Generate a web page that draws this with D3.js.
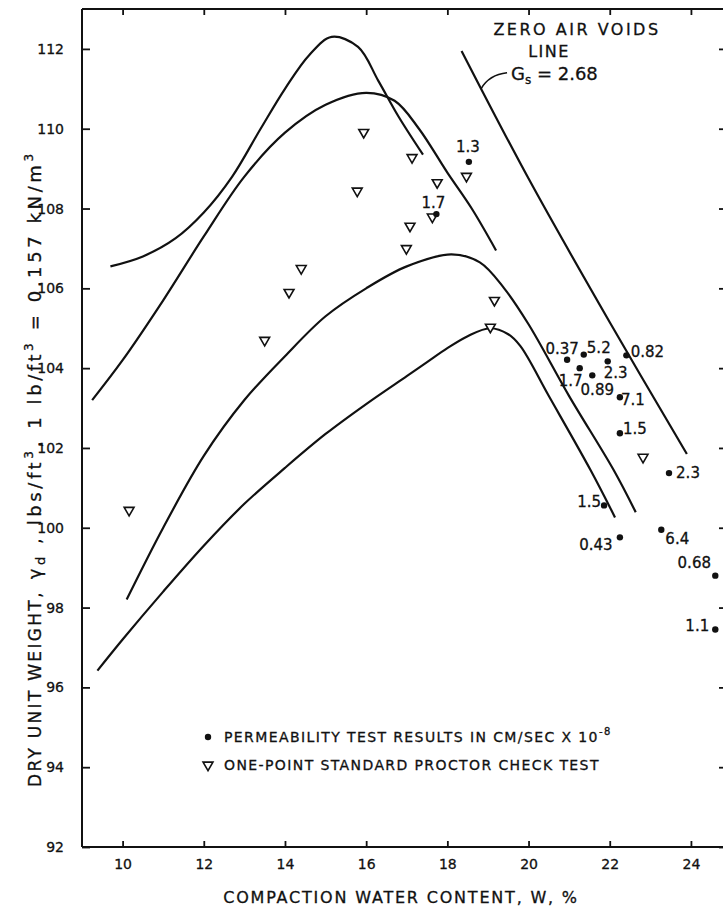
<!DOCTYPE html>
<html><head><meta charset="utf-8">
<script src="https://cdn.jsdelivr.net/npm/d3@7"></script>
<style>body{margin:0;background:#fff}svg{display:block}text{font-family:"DejaVu Sans",sans-serif;fill:#111;stroke:#111;stroke-width:0.3}</style>
</head><body><svg id="c" width="723" height="910"></svg>
<script>
// ---- data ----
const xTicks = [10, 12, 14, 16, 18, 20, 22, 24];
const yTicks = [92, 94, 96, 98, 100, 102, 104, 106, 108, 110, 112];

const curveA_w = [9.7, 10.5, 11.3, 12, 12.7, 13.4, 14, 14.6, 15.15, 15.8, 16.3, 16.8, 17.4];
const curveA_v = [106.55, 106.8, 107.25, 107.9, 108.8, 110.0, 111.0, 111.85, 112.3, 112.05, 111.2, 110.3, 109.35];
const curveB_w = [9.25, 10, 11, 12, 13, 14, 15, 16, 16.7, 17.3, 18, 18.6, 19.2];
const curveB_v = [103.2, 104.2, 105.7, 107.3, 108.8, 109.9, 110.6, 110.9, 110.7, 110.0, 108.9, 108.0, 106.95];
const curveC_w = [10.1, 11, 12, 13, 14, 15, 16, 17, 18.1, 18.8, 19.4, 20.0, 21.0, 22.1, 22.64];
const curveC_v = [98.2, 100.0, 101.8, 103.2, 104.3, 105.3, 106.0, 106.55, 106.85, 106.65, 106.0, 105.1, 103.3, 101.44, 100.39];
const curveD_w = [9.38, 10, 11, 12, 13, 14, 15, 16, 17, 17.5, 18, 18.5, 19.05, 19.5, 19.8, 20.5, 21.53, 22.13];
const curveD_v = [96.42, 97.2, 98.4, 99.55, 100.6, 101.5, 102.35, 103.1, 103.8, 104.15, 104.5, 104.8, 105.0, 104.85, 104.55, 103.3, 101.44, 100.26];
const zav_w = [18.35, 20.0, 22.0, 23.9];
const zav_v = [111.95, 108.75, 105.15, 101.85];

const permW = [18.53, 17.73, 20.95, 21.36, 21.95, 22.41, 21.26, 21.57, 22.25, 22.25, 23.46, 21.86, 22.25, 23.27, 24.6, 24.6];
const permV = [109.17, 107.86, 104.21, 104.34, 104.17, 104.32, 104.0, 103.82, 103.27, 102.37, 101.37, 100.56, 99.76, 99.95, 98.8, 97.45];
const permLabels = ["1.3", "1.7", "0.37", "5.2", "2.3", "0.82", "1.7", "0.89", "7.1", "1.5", "2.3", "1.5", "0.43", "6.4", "0.68", "1.1"];

const triW = [10.16, 13.5, 14.1, 14.4, 15.78, 15.94, 16.99, 17.08, 17.13, 17.63, 17.75, 18.47, 19.16, 19.06, 22.82];
const triV = [100.44, 104.7, 105.9, 106.5, 108.44, 109.91, 107.0, 107.56, 109.28, 107.79, 108.65, 108.81, 105.70, 105.03, 101.77];

// ---- layout (label placement, px offsets of text centre from its dot) ----
const labelOffsets = [[-1,-15],[-3,-12],[-5,-11],[15,-7],[8,11],[21,-4],[-9,12],[5,14],[13,2],[15,-5],[19,0],[-15,-4],[-24,7],[16,9],[-21,-13],[-18,-4]];

const svg = d3.select("#c");
const x = d3.scaleLinear().domain([9, 24.79]).range([82, 723]);
const y = d3.scaleLinear().domain([92, 113]).range([847, 9]);
const ink = "#111";

// frame
const g = svg.append("g");
g.append("line").attr("x1", 82).attr("x2", 82).attr("y1", y(113)).attr("y2", y(92)).attr("stroke", ink).attr("stroke-width", 2);
g.append("line").attr("x1", 82).attr("x2", 723).attr("y1", y(92)).attr("y2", y(92)).attr("stroke", ink).attr("stroke-width", 2);
g.append("line").attr("x1", 82).attr("x2", 723).attr("y1", y(113)).attr("y2", y(113)).attr("stroke", ink).attr("stroke-width", 2);

// axes via d3 axis (inward ticks)
const yAxis = d3.axisLeft(y).tickValues(yTicks).tickSize(-8).tickPadding(18).tickFormat(d3.format("d"));
const ya = svg.append("g").attr("transform", "translate(82,0)").call(yAxis);
const xAxis = d3.axisBottom(x).tickValues(xTicks).tickSize(-6).tickPadding(12).tickFormat(d3.format("d"));
const xa = svg.append("g").attr("transform", `translate(0,${y(92)})`).call(xAxis);
const xTop = d3.axisTop(x).tickValues(xTicks).tickSize(-6).tickFormat("");
const xt = svg.append("g").attr("transform", `translate(0,${y(113)})`).call(xTop);
const yRight = d3.axisLeft(y).tickValues(yTicks).tickSize(4).tickFormat("");
const yr = svg.append("g").attr("transform", "translate(723,0)").call(yRight);
[ya, xa, xt, yr].forEach(a => {
  a.select(".domain").remove();
  a.selectAll(".tick line").attr("stroke", ink).attr("stroke-width", 1.8);
  a.selectAll("text").attr("font-size", 14).attr("fill", ink).style("font-family", '"DejaVu Sans",sans-serif');
});

// curves
const line = d3.line().x(d => x(d[0])).y(d => y(d[1])).curve(d3.curveCatmullRom.alpha(0.5));
[[curveA_w, curveA_v], [curveB_w, curveB_v], [curveC_w, curveC_v], [curveD_w, curveD_v]].forEach(([w, v]) => {
  svg.append("path").datum(w.map((d, i) => [d, v[i]])).attr("d", line)
    .attr("fill", "none").attr("stroke", ink).attr("stroke-width", 2.2);
});
svg.append("path").datum(zav_w.map((d, i) => [d, zav_v[i]])).attr("d", line)
  .attr("fill", "none").attr("stroke", ink).attr("stroke-width", 2.2);

// triangles
const tri = d3.symbol().type(d3.symbolTriangle).size(42);
svg.append("g").selectAll("path").data(triW.map((d, i) => [d, triV[i]])).join("path")
  .attr("d", tri).attr("transform", d => `translate(${x(d[0])},${y(d[1])}) rotate(180)`)
  .attr("fill", "#fff").attr("stroke", ink).attr("stroke-width", 1.6);

// permeability dots + labels
const perm = permW.map((d, i) => ({w: d, v: permV[i], t: permLabels[i], o: labelOffsets[i]}));
svg.append("g").selectAll("circle").data(perm).join("circle")
  .attr("cx", d => x(d.w)).attr("cy", d => y(d.v)).attr("r", 3.2).attr("fill", ink);
svg.append("g").selectAll("text").data(perm).join("text")
  .attr("x", d => x(d.w) + d.o[0]).attr("y", d => y(d.v) + d.o[1]).attr("dy", "0.36em")
  .attr("text-anchor", "middle").attr("font-size", 15).text(d => d.t);

// zero air voids annotation
svg.append("text").attr("x", 577).attr("y", 35).attr("text-anchor", "middle").attr("font-size", 16)
  .attr("letter-spacing", 2.5).text("ZERO AIR VOIDS");
svg.append("text").attr("x", 549).attr("y", 57).attr("text-anchor", "middle").attr("font-size", 16)
  .attr("letter-spacing", 1.5).text("LINE");
const gs = svg.append("text").attr("x", 511).attr("y", 80).attr("font-size", 18);
gs.append("tspan").text("G");
gs.append("tspan").attr("font-size", 12).attr("dy", 4).text("s");
gs.append("tspan").attr("dy", -4).text(" = 2.68");
const lx = x(18.83), ly = y(111.0);
svg.append("path").attr("d", `M${lx},${ly} Q${lx + 8},${ly - 14} ${lx + 26},${ly - 16}`)
  .attr("fill", "none").attr("stroke", ink).attr("stroke-width", 1.6);

// legend
svg.append("circle").attr("cx", 208).attr("cy", 737).attr("r", 3.2).attr("fill", ink);
const l1 = svg.append("text").attr("x", 224).attr("y", 742).attr("font-size", 14).attr("letter-spacing", 1.4);
l1.append("tspan").text("PERMEABILITY TEST RESULTS IN CM/SEC X 10");
l1.append("tspan").attr("font-size", 10).attr("dy", -7).text("-8");
svg.append("path").attr("d", tri).attr("transform", "translate(208,765) rotate(180)")
  .attr("fill", "#fff").attr("stroke", ink).attr("stroke-width", 1.6);
svg.append("text").attr("x", 224).attr("y", 770).attr("font-size", 14).attr("letter-spacing", 1.4)
  .text("ONE-POINT STANDARD PROCTOR CHECK TEST");

// axis titles
svg.append("text").attr("x", 401).attr("y", 903).attr("text-anchor", "middle").attr("font-size", 16)
  .attr("letter-spacing", 1.8).text("COMPACTION WATER CONTENT, W, %");
const yt = svg.append("text").attr("transform", "translate(41,787) rotate(-90)").attr("font-size", 17).attr("letter-spacing", 2.3);
yt.append("tspan").text("DRY UNIT WEIGHT");
const yt2 = svg.append("text").attr("transform", "translate(41,598) rotate(-90)").attr("font-size", 18).attr("letter-spacing", 3.6);
yt2.append("tspan").text(", \u03B3");
yt2.append("tspan").attr("font-size", 13).attr("dy", 4).text("d");
yt2.append("tspan").attr("dy", -4).text(" , lbs/ft");
yt2.append("tspan").attr("font-size", 12).attr("dy", -8).text("3");
yt2.append("tspan").attr("dy", 8).text(", 1 lb/ft");
yt2.append("tspan").attr("font-size", 12).attr("dy", -8).text("3");
yt2.append("tspan").attr("dy", 8).text(" = 0.157 kN/m");
yt2.append("tspan").attr("font-size", 12).attr("dy", -8).text("3");
</script></body></html>
